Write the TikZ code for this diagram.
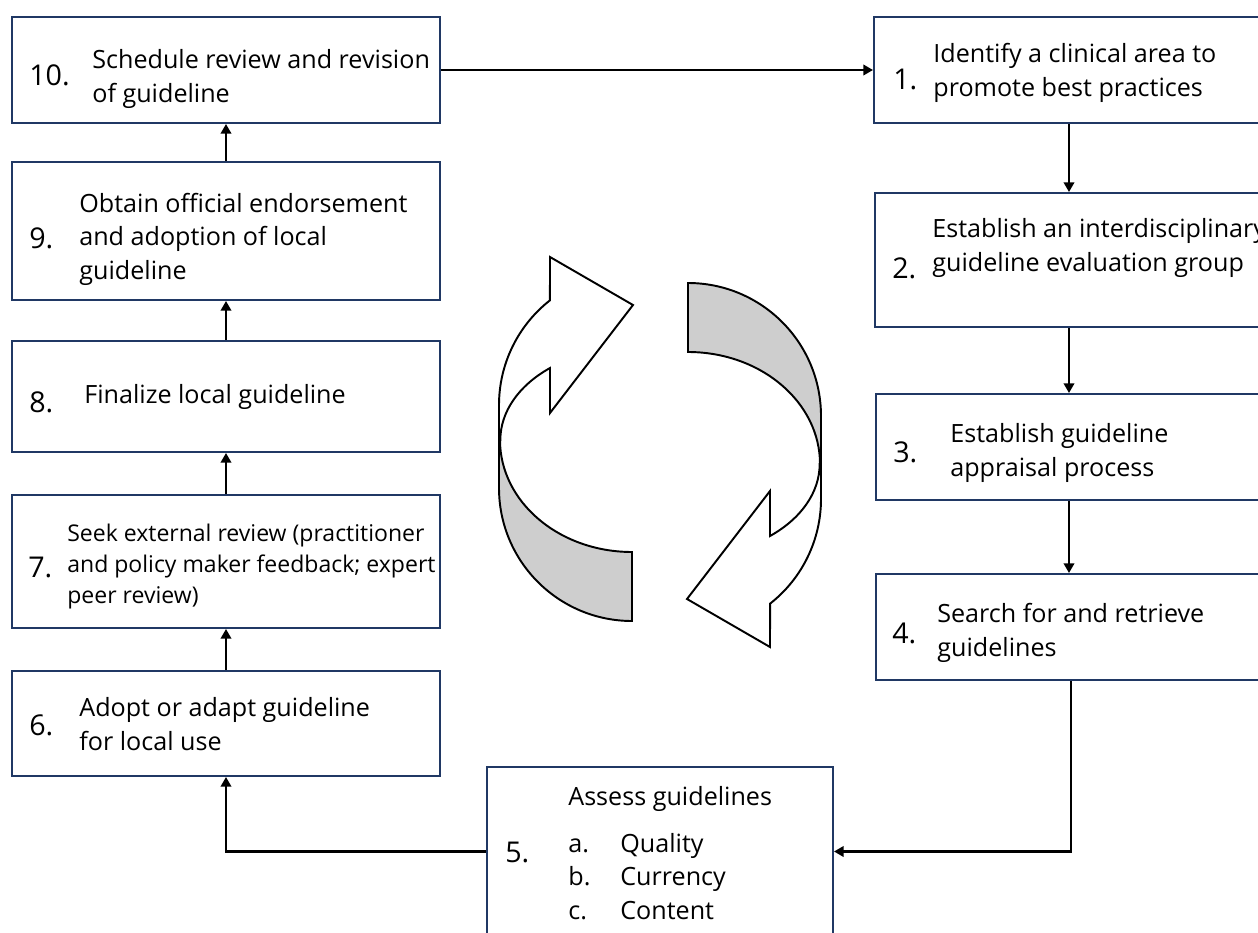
\documentclass[tikz,border=0pt]{standalone}
\usepackage{fontspec}
\setmainfont{Open Sans}
\usetikzlibrary{arrows.meta,fit}
\definecolor{boxline}{RGB}{32,56,100}
\definecolor{bandgrey}{RGB}{206,206,206}
\newcommand{\listlabel}[1]{\makebox[29.6pt][l]{#1}}
\begin{document}
\begin{tikzpicture}[x=0.02cm,y=-0.02cm,
  box/.style={draw=boxline,line width=1.15pt,rectangle,inner sep=0pt},
  num/.style={anchor=base west,inner sep=0pt,font=\fontsize{16.3}{20}\selectfont},
  % multi-line labels are placed by the baseline of their last line
  txt/.style={anchor=base west,inner sep=0pt,align=left,font=\fontsize{14.3}{18.8}\selectfont},
  smalltxt/.style={txt,font=\fontsize{13.1}{17.4}\selectfont},
  link/.style={line width=1.2pt,-{Triangle[length=5.5pt,width=6pt]}},
  band/.style={draw=black,line width=1.1pt,line join=miter}]
\useasboundingbox (0,0) rectangle (1258,933);

% left column of steps
\node[box,fit={(12,17) (440,123)}]  (b10) {};
\node[box,fit={(12,162) (440,300)}] (b9) {};
\node[box,fit={(12,341) (440,452)}] (b8) {};
\node[box,fit={(12,495) (440,628)}] (b7) {};
\node[box,fit={(12,671) (440,776)}] (b6) {};
% right column of steps
\node[box,fit={(874,17) (1272,123)}]  (b1) {};
\node[box,fit={(875,193) (1272,327)}] (b2) {};
\node[box,fit={(876,394) (1272,500)}] (b3) {};
\node[box,fit={(876,574) (1272,680)}] (b4) {};
% bottom step
\node[box,fit={(487,767) (833,936)}] (b5) {};

% labels
\node[num] (n10) at (29,85) {10.};
\node[txt] (t10) at (92,102) {Schedule review and revision\\of guideline};
\node[num] (n9) at (29,248) {9.};
\node[txt] (t9) at (79,279) {Obtain official endorsement\\and adoption of local\\guideline};
\node[num] (n8) at (29,412) {8.};
\node[txt] (t8) at (84,403) {Finalize local guideline};
\node[num] (n7) at (28,577) {7.};
\node[smalltxt] (t7) at (67,603) {Seek external review (practitioner\\and policy maker feedback; expert\\peer review)};
\node[num] (n6) at (29,735) {6.};
\node[txt] (t6) at (79,750) {Adopt or adapt guideline\\for local use};
\node[num] (n1) at (893,89) {1.};
\node[txt] (t1) at (933,96) {Identify a clinical area to\\promote best practices};
\node[num] (n2) at (892,278) {2.};
\node[txt] (t2) at (932,271) {Establish an interdisciplinary\\guideline evaluation group};
\node[num] (n3) at (893,462) {3.};
\node[txt] (t3) at (950,476) {Establish guideline\\appraisal process};
\node[num] (n4) at (892,643) {4.};
\node[txt] (t4) at (937,656) {Search for and retrieve\\guidelines};
\node[num] (n5) at (505,862) {5.};
\node[txt] (t5) at (568,805) {Assess guidelines};
\node[txt] (t5l) at (568,919) {\listlabel{a.}Quality\\\listlabel{b.}Currency\\\listlabel{c.}Content};

% connectors
\coordinate (colR) at (1069,0);
\coordinate (colRb) at (1071,0);
\draw[link] (b10.east) -- (b1.west);
\draw[link] (b1.south -| colR) -- (b2.north -| colR);
\draw[link] (b2.south -| colR) -- (b3.north -| colR);
\draw[link] (b3.south -| colR) -- (b4.north -| colR);
\draw[link] (b4.south -| colRb) |- (b5.east);
\draw[link] (b5.west) -| (b6.south);
\draw[link] (b6.north) -- (b7.south);
\draw[link] (b7.north) -- (b8.south);
\draw[link] (b8.north) -- (b9.south);
\draw[link] (b9.north) -- (b10.south);

% cycle symbol: two half-turn arrows, the second one the first turned by 180 degrees
\foreach \turn in {0,180}{
  \begin{scope}[rotate around={\turn:(660,452)}]
    \draw[band,fill=white] (499,440) -- (499,405)
      arc[start angle=180,end angle=231.9,radius=133]
      -- (550,257) -- (633,305) -- (550,413) -- (550,368)
      arc[start angle=231.4,end angle=180,x radius=132,y radius=92] -- cycle;
    \draw[band,fill=bandgrey] (499,440) -- (499,488)
      arc[start angle=180,end angle=90,radius=133]
      -- (632,552)
      arc[start angle=90,end angle=180,x radius=132,y radius=112] -- cycle;
  \end{scope}
}
\end{tikzpicture}
\end{document}
